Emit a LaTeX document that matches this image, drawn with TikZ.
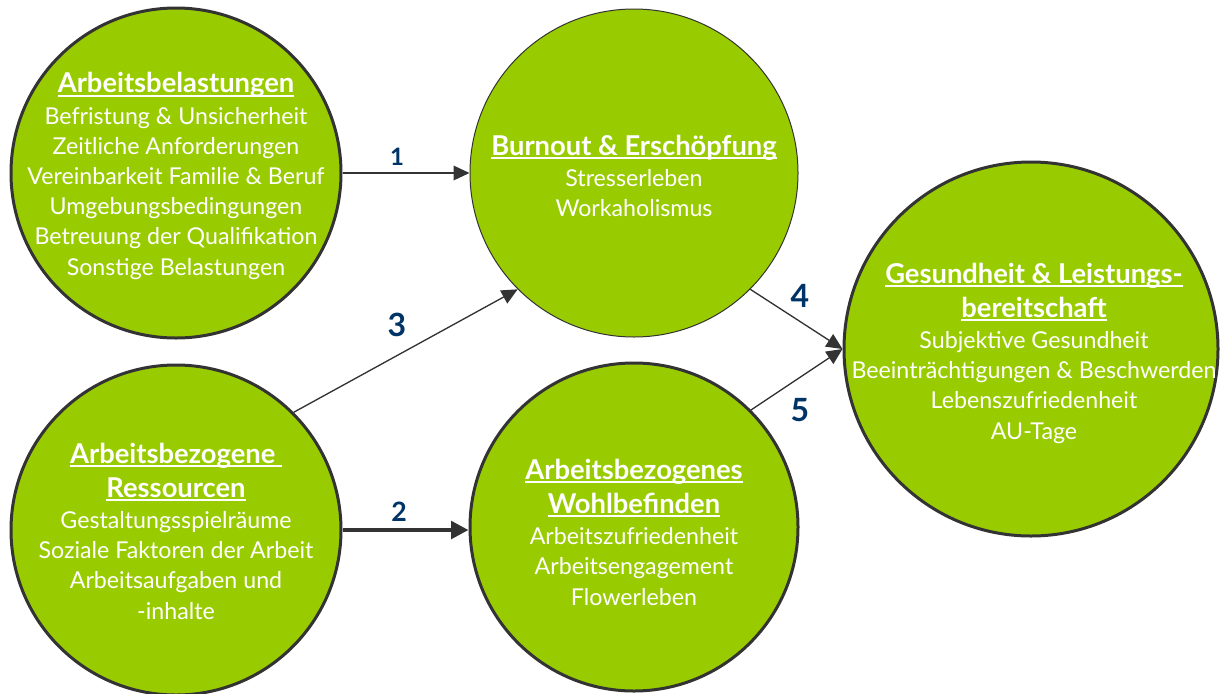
\documentclass[tikz,border=0pt]{standalone}
\usepackage{fontspec}
\setmainfont{Lato}
\usetikzlibrary{arrows.meta}
\definecolor{kreisgruen}{RGB}{153,204,0}
\definecolor{randgrau}{RGB}{51,51,51}
\definecolor{zahlblau}{RGB}{0,51,102}
\newsavebox{\kopfbox}
\newcommand{\kopf}[1]{{\fontsize{20.5}{25}\selectfont\bfseries\sbox{\kopfbox}{#1}\rlap{\rule[-3pt]{\wd\kopfbox}{1.4pt}}\usebox{\kopfbox}}}

\begin{document}
\begin{tikzpicture}[x=0.75pt,y=0.75pt,yscale=-1,xscale=1,
  kreis/.style={circle, fill=kreisgruen, draw=randgrau, line width=2.25pt, inner sep=0pt},
  inhalt/.style={text=white, align=center, inner sep=0pt, font=\fontsize{17.4}{22.6}\selectfont},
  pfeil/.style={draw=randgrau, line width=1pt, -{Triangle[length=12pt,width=11pt]}},
  zahl/.style={text=zahlblau, inner sep=0pt, font=\bfseries\fontsize{18}{18}\selectfont}]

\useasboundingbox (0,0) rectangle (1223,693);

% Kreise
\node [kreis, minimum size=247.5pt] (belast) at (176,173) {};
\node [kreis, minimum size=246pt, line width=0.75pt] (burnout) at (634,173) {};
\node [kreis, minimum size=247.5pt] (ressourcen) at (176,530) {};
\node [kreis, minimum size=246pt] (wohl) at (634,527) {};
\node [kreis, minimum size=280.5pt] (gesundheit) at (1031,349) {};

% Texte
\node [inhalt] (belastText) at (176,176) {\kopf{Arbeitsbelastungen}\\[1pt] Befristung \& Unsicherheit\\ Zeitliche Anforderungen\\ Vereinbarkeit Familie \& Beruf\\ Umgebungsbedingungen\\ Betreuung der Qualifikation\\ Sonstige Belastungen};
\node [inhalt] (burnoutText) at (634,176) {\kopf{Burnout \& Erschöpfung}\\[1pt] Stresserleben\\ Workaholismus};
\node [inhalt] (ressourcenText) at (176,531) {\kopf{Arbeitsbezogene\ }\\[3pt] \kopf{Ressourcen}\\[1pt] Gestaltungsspielräume\\ Soziale Faktoren der Arbeit\\ Arbeitsaufgaben und\\ -inhalte};
\node [inhalt] (wohlText) at (634,532) {\kopf{Arbeitsbezogenes}\\[3pt] \kopf{Wohlbefinden}\\[1pt] Arbeitszufriedenheit\\ Arbeitsengagement\\ Flowerleben};
\node [inhalt] (gesundheitText) at (1034,353) {\kopf{Gesundheit \& Leistungs-}\\[3pt] \kopf{bereitschaft}\\[1pt] Subjektive Gesundheit\\ Beeinträchtigungen \& Beschwerden\\ Lebenszufriedenheit\\ AU-Tage};

% Pfeile
\draw [pfeil] (belast.east) -- (burnout.west);
\draw [pfeil, line width=3pt, -{Triangle[length=13pt,width=13pt]}] (ressourcen.east) -- (ressourcen.east -| wohl.west);
\draw [pfeil] (ressourcen.north east) -- (burnout.south west);
\draw [pfeil] (burnout.south east) -- (gesundheit.west);
\draw [pfeil] (wohl.north east) -- (gesundheit.west);

% Nummern
\node [zahl] (z1) at (397,157) {1};
\node [zahl, font=\bfseries\fontsize{20}{20}\selectfont] (z2) at (399,512) {2};
\node [zahl, font=\bfseries\fontsize{24}{24}\selectfont] (z3) at (397,325) {3};
\node [zahl, font=\bfseries\fontsize{24}{24}\selectfont] (z4) at (800,296) {4};
\node [zahl, font=\bfseries\fontsize{24}{24}\selectfont] (z5) at (800,410) {5};

\end{tikzpicture}
\end{document}
